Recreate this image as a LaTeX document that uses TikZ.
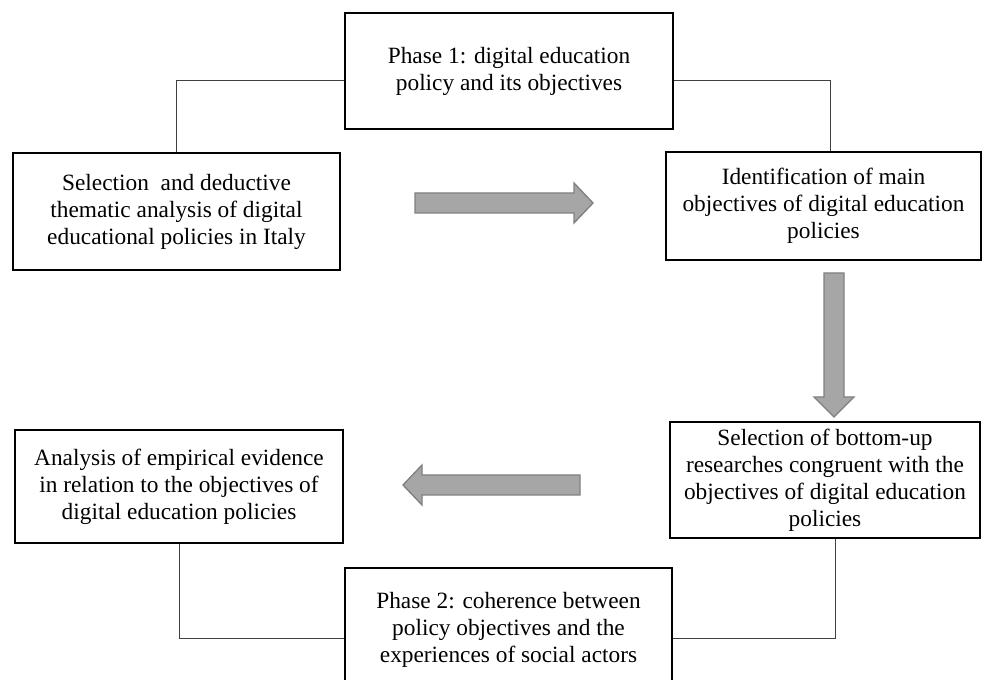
\documentclass[tikz,border=0pt]{standalone}
\usepackage{fontspec}
\setmainfont{Liberation Serif}
\usepackage{tikz}

\begin{document}
\begin{tikzpicture}[x=0.75pt,y=-0.75pt,
  stagebox/.style={draw=black,line width=1.5pt,inner sep=0pt,align=center,
    font=\fontsize{17.5}{20.3}\selectfont},
  link/.style={black!75,line width=0.75pt},
  blockarrow/.style={fill=black!35,draw=black!50,line width=1pt,line join=miter}]
\path[use as bounding box] (0,0) rectangle (986,680);
\node[stagebox,minimum width=246pt,minimum height=87pt] (phase1) at (509,71)
  {Phase 1: digital education\\policy and its objectives};
\node[stagebox,minimum width=245.25pt,minimum height=87.75pt] (select) at (176.5,211.5)
  {Selection \ and deductive\\thematic analysis of digital\\educational policies in Italy};
\node[stagebox,minimum width=236.25pt,minimum height=81pt] (ident) at (823.5,206)
  {Identification of main\\objectives of digital education\\policies};
\node[stagebox,minimum width=232.5pt,minimum height=87pt] (bottomup) at (825,480)
  {Selection of bottom-up\\researches congruent with the\\objectives of digital education\\policies};
\node[stagebox,minimum width=246pt,minimum height=84.75pt] (empirical) at (179,486.5)
  {Analysis of empirical evidence\\in relation to the objectives of\\digital education policies};
\node[stagebox,minimum width=245.25pt,minimum height=93pt] (phase2) at (508.5,630)
  {Phase 2: coherence between\\policy objectives and the\\experiences of social actors};
% phase links
\draw[link] ([yshift=-7.5pt]phase1.west) -| (select.north);
\draw[link] ([yshift=-7.5pt]phase1.east) -| ([xshift=4.9pt]ident.north);
\draw[link] (empirical.south) |- ([yshift=-6.75pt]phase2.west);
\draw[link] ([xshift=7.5pt]bottomup.south) |- ([yshift=-6.75pt]phase2.east);
% block arrows
\draw[blockarrow] (415,193) -- (574,193) -- (574,183) -- (593,203) -- (574,223) -- (574,213) -- (415,213) -- cycle;
\draw[blockarrow] (824,273) -- (844,273) -- (844,397) -- (854,397) -- (834,417) -- (814,397) -- (824,397) -- cycle;
\draw[blockarrow] (580,475) -- (422,475) -- (422,465) -- (403,485) -- (422,505) -- (422,495) -- (580,495) -- cycle;
\end{tikzpicture}
\end{document}
